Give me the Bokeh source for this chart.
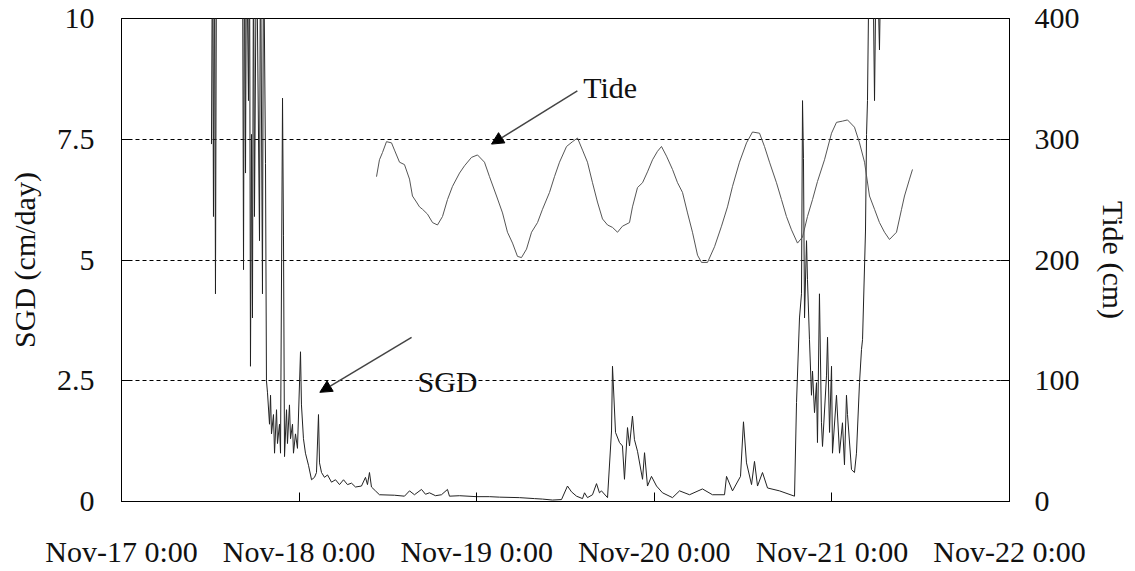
from bokeh.plotting import figure
from bokeh.models import Range1d, LinearAxis, FixedTicker, Arrow, NormalHead, Label
from bokeh.embed import file_html
from bokeh.resources import INLINE

# ---- data (hours since Nov-17 0:00) ----
sgd_hours = [12.16, 12.30, 12.43, 12.57, 12.70, 12.84, 16.35, 16.49, 16.62, 16.76, 16.89, 17.16,
             17.30, 17.43, 17.57, 17.70, 17.84, 17.97, 18.24, 18.65, 18.78, 19.05, 19.19, 19.46,
             19.59, 19.73, 20.00, 20.14, 20.27, 20.54, 20.68, 20.95, 21.08, 21.35, 21.49, 21.76,
             21.89, 22.03, 22.30, 22.43, 22.70, 22.84, 23.11, 23.24, 23.51, 23.78, 24.19, 24.32,
             24.59, 24.86, 25.27, 25.68, 26.08, 26.35, 26.62, 26.76, 27.03, 27.43, 27.84, 28.38,
             28.92, 29.46, 30.00, 30.54, 31.08, 31.62, 32.43, 32.97, 33.24, 33.51, 33.78, 34.32,
             34.86, 36.89, 38.24, 38.92, 39.59, 40.54, 41.08, 41.62, 42.43, 43.24, 44.05, 44.32,
             45.68, 47.97, 49.73, 51.08, 53.78, 55.81, 56.89, 58.24, 59.46, 60.27, 60.81, 61.49,
             62.30, 62.57, 62.97, 63.65, 64.19, 64.59, 64.86, 65.68, 66.22, 66.35, 66.76, 67.30,
             67.70, 67.97, 68.38, 68.65, 69.05, 69.32, 69.73, 70.41, 70.68, 71.08, 71.62, 72.30,
             73.11, 74.46, 75.41, 76.76, 78.51, 79.86, 81.49, 81.76, 82.57, 83.65, 84.05, 84.46,
             85.14, 85.54, 85.95, 86.62, 87.30, 88.92, 90.95, 91.22, 91.62, 91.89, 92.03, 92.16,
             92.30, 92.57, 92.70, 92.97, 93.24, 93.38, 93.65, 93.92, 94.05, 94.32, 94.59, 94.73,
             95.27, 95.41, 95.68, 95.95, 96.08, 96.62, 97.03, 97.43, 97.70, 97.97, 98.11, 98.65,
             99.05, 99.32, 99.73, 100.00, 100.14, 100.54, 100.68, 100.81, 101.08, 101.49, 101.76,
             102.03, 102.43, 102.70]
sgd_values = [7.4, 12, 5.9, 12, 4.3, 12, 12, 4.8, 12, 6.8, 12, 8.3,
              12, 2.8, 7.6, 3.8, 12, 5.9, 12, 5.4, 12, 4.3, 12, 7.0,
              2.5, 2.25, 1.6, 2.2, 1.4, 1.8, 1.0, 1.9, 1.2, 1.6, 1.0, 8.35,
              5.5, 0.93, 1.9, 1.2, 2.0, 1.3, 1.6, 1.0, 1.4, 1.1, 3.1, 2.0,
              1.3, 1.0, 0.75, 0.45, 0.5, 0.6, 1.8, 0.8, 0.6, 0.5, 0.55, 0.4,
              0.45, 0.35, 0.45, 0.35, 0.38, 0.3, 0.32, 0.5, 0.35, 0.6, 0.3, 0.22,
              0.14, 0.13, 0.11, 0.22, 0.14, 0.25, 0.15, 0.18, 0.12, 0.14, 0.25, 0.11,
              0.12, 0.1, 0.1, 0.09, 0.08, 0.06, 0.05, 0.03, 0.04, 0.32, 0.2, 0.11,
              0.06, 0.18, 0.08, 0.14, 0.37, 0.18, 0.22, 0.08, 1.46, 2.8, 1.43, 1.22,
              1.15, 0.46, 1.53, 1.15, 1.77, 1.28, 1.04, 0.46, 1.01, 0.32, 0.52, 0.32,
              0.18, 0.08, 0.22, 0.14, 0.26, 0.14, 0.14, 0.52, 0.22, 0.52, 1.65, 0.8,
              0.35, 0.83, 0.32, 0.6, 0.28, 0.22, 0.11, 2.05, 3.8, 4.3, 8.3, 7.1,
              3.8, 5.4, 4.6, 3.35, 2.2, 2.7, 1.84, 2.46, 1.22, 4.3, 1.63, 1.14,
              2.6, 3.4, 1.43, 2.8, 1.0, 2.2, 1.0, 1.63, 0.76, 2.2, 1.8, 0.66,
              0.6, 1.0, 2.46, 3.15, 3.35, 5.6, 7.6, 8.3, 12, 12, 8.3,
              12, 9.35, 12]

tide_hours = [34.46, 34.86, 35.27, 35.81, 36.49, 36.89, 37.57, 38.24, 38.92, 39.32, 39.86, 40.27,
              40.68, 41.35, 42.03, 42.70, 43.38, 44.05, 44.73, 45.68, 46.35, 47.30, 48.11, 49.05,
              49.73, 50.68, 51.49, 52.16, 52.84, 53.51, 54.05, 54.73, 55.41, 56.22, 56.89, 57.84,
              58.51, 59.19, 60.14, 60.95, 61.62, 62.30, 62.97, 63.65, 64.32, 65.00, 65.68, 66.35,
              67.03, 67.70, 68.65, 69.05, 69.73, 70.41, 71.08, 71.76, 72.43, 72.97, 73.65, 74.46,
              75.14, 75.81, 76.49, 77.16, 77.84, 78.38, 79.19, 80.14, 81.08, 81.89, 82.57, 83.51,
              84.46, 85.27, 86.22, 86.89, 87.57, 88.51, 89.19, 89.86, 90.54, 91.35, 92.03, 92.70,
              93.38, 94.05, 95.00, 95.95, 96.62, 97.43, 98.11, 99.05, 99.73, 100.41, 101.08,
              101.76, 102.43, 103.11, 103.78, 104.73, 105.41, 105.81, 106.49, 106.89]
tide_values = [269, 283, 289, 298, 297, 291, 281, 279, 267, 253, 248, 244,
               242, 238, 231, 229, 236, 250, 261, 272, 278, 285, 287, 281,
               269, 253, 239, 223, 214, 203, 202, 209, 223, 231, 242, 256,
               269, 281, 294, 298, 301, 291, 281, 264, 248, 234, 229, 227,
               223, 228, 231, 244, 260, 264, 273, 283, 290, 294, 286, 275,
               264, 256, 239, 223, 204, 198, 198, 211, 228, 244, 261, 281,
               297, 306, 305, 294, 281, 264, 250, 236, 225, 214, 219, 236,
               250, 265, 283, 305, 314, 315, 316, 310, 297, 281, 253,
               242, 231, 223, 217, 223, 242, 253, 267, 275]

x_ticks = [0, 24, 48, 72, 96, 120]
x_tick_labels = ["Nov-17 0:00", "Nov-18 0:00", "Nov-19 0:00", "Nov-20 0:00", "Nov-21 0:00", "Nov-22 0:00"]
sgd_ticks = [0, 2.5, 5, 7.5, 10]
sgd_tick_labels = ["0", "2.5", "5", "7.5", "10"]
tide_ticks = [0, 100, 200, 300, 400]

FONT = "Liberation Serif"
FS = "30px"
TXT = "#111111"

p = figure(width=1132, height=570, output_backend="svg", toolbar_location=None,
           x_range=Range1d(0, 120), y_range=Range1d(0, 10),
           min_border_left=121, min_border_right=123, min_border_top=18, min_border_bottom=69)
p.extra_y_ranges = {"tide": Range1d(0, 400)}
p.background_fill_color = "white"
p.border_fill_color = "white"
p.outline_line_color = "black"
p.outline_line_width = 1

p.xgrid.visible = False
p.ygrid.ticker = FixedTicker(ticks=[2.5, 5, 7.5])
p.ygrid.grid_line_color = "black"
p.ygrid.grid_line_dash = "4 3"
p.ygrid.grid_line_width = 1

def style_axis(ax):
    ax.major_tick_in = 9
    ax.major_tick_out = 0
    ax.minor_tick_line_color = None
    ax.axis_line_color = "black"
    ax.major_tick_line_color = "black"
    ax.major_label_text_font = FONT
    ax.major_label_text_font_size = FS
    ax.major_label_text_color = TXT
    ax.axis_label_text_font = FONT
    ax.axis_label_text_font_size = FS
    ax.axis_label_text_font_style = "normal"
    ax.axis_label_text_color = TXT

xa = p.xaxis[0]
xa.ticker = FixedTicker(ticks=x_ticks)
xa.major_label_overrides = {t: l for t, l in zip(x_ticks, x_tick_labels)}
style_axis(xa)
xa.major_label_standoff = 33

ya = p.yaxis[0]
ya.ticker = FixedTicker(ticks=sgd_ticks)
ya.major_label_overrides = {t: l for t, l in zip(sgd_ticks, sgd_tick_labels)}
ya.axis_label = "SGD (cm/day)"
style_axis(ya)
ya.major_label_standoff = 27
ya.axis_label_standoff = 13

ra = LinearAxis(y_range_name="tide", ticker=FixedTicker(ticks=tide_ticks), axis_label="Tide (cm)")
style_axis(ra)
ra.major_label_standoff = 25
ra.axis_label_standoff = 14
p.add_layout(ra, "right")

p.line(sgd_hours, sgd_values, line_color="#222222", line_width=1)
p.line(tide_hours, tide_values, y_range_name="tide", line_color="#555555", line_width=1)

# annotations
p.add_layout(Arrow(x_start=61.6, y_start=8.5, x_end=50.0, y_end=7.4,
                   line_color="#444444", line_width=1.5,
                   end=NormalHead(size=12, fill_color="black", line_color="black")))
p.add_layout(Arrow(x_start=39.2, y_start=3.4, x_end=26.8, y_end=2.26,
                   line_color="#444444", line_width=1.5,
                   end=NormalHead(size=12, fill_color="black", line_color="black")))
p.add_layout(Label(x=62.4, y=8.57, text="Tide", text_font=FONT, text_font_size=FS,
                   text_baseline="middle", text_color=TXT))
p.add_layout(Label(x=40.0, y=2.48, text="SGD", text_font=FONT, text_font_size=FS,
                   text_baseline="middle", text_color=TXT))

open("out.html", "w").write(file_html(p, INLINE))
